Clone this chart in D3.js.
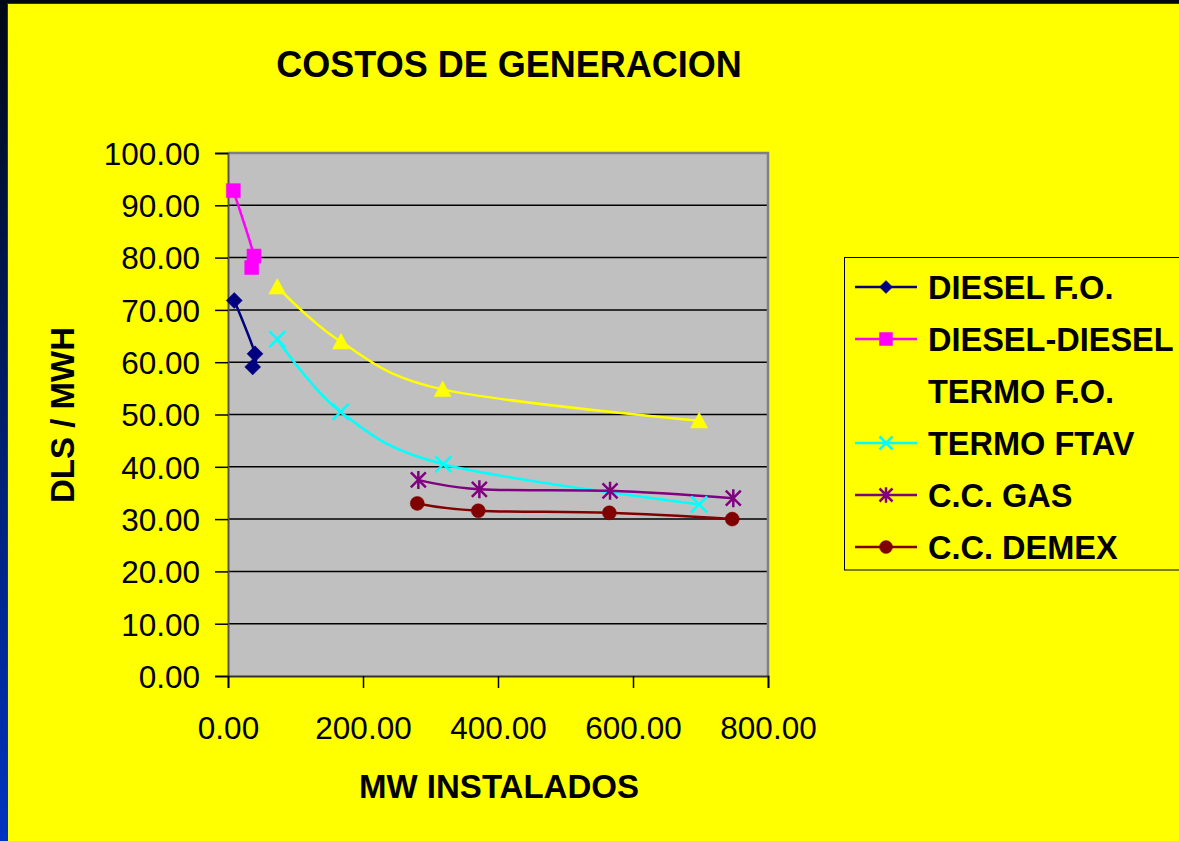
<!DOCTYPE html>
<html><head><meta charset="utf-8">
<script src="https://cdn.jsdelivr.net/npm/d3@7"></script>
<style>body{margin:0;overflow:hidden;background:#000;} text{font-family:"Liberation Sans",Arial,sans-serif;fill:#000;}</style>
</head><body><svg id="c" width="1179" height="841"></svg>
<script>
const chartTitle = "COSTOS DE GENERACION";
const xTitle = "MW INSTALADOS";
const yTitle = "DLS / MWH";
const xTicks = [0, 200, 400, 600, 800];
const yTicks = [0, 10, 20, 30, 40, 50, 60, 70, 80, 90, 100];
const seriesNames = ["DIESEL F.O.", "DIESEL-DIESEL", "TERMO F.O.", "TERMO FTAV", "C.C. GAS", "C.C. DEMEX"];
const dieselFO = [[9.3, 71.8], [40, 61.6], [36.6, 59.1]];
const dieselDiesel = [[7.9, 92.8], [38.5, 80.3], [35.1, 78.1]];
const termoFO = [[73, 74.4], [167.4, 63.9], [318, 54.8], [698, 48.8]];
const termoFTAV = [[73, 64.4], [167, 50.5], [319, 40.5], [698, 32.8]];
const ccGas = [[282, 37.5], [372.4, 35.7], [566, 35.4], [748.6, 34.0]];
const ccDemex = [[280.4, 33.0], [370.8, 31.6], [565, 31.2], [747, 30.0]];

const seriesData = [dieselFO, dieselDiesel, termoFO, termoFTAV, ccGas, ccDemex];
const colors = ["#000080", "#FF00FF", "#FFFF00", "#00FFFF", "#800080", "#800000"];
const markers = ["diamond", "square", "triangle", "x", "star", "circle"];

const svg = d3.select("#c");
const defs = svg.append("defs");
const grad = defs.append("linearGradient").attr("id", "bg").attr("x1", 0).attr("y1", 0).attr("x2", 0).attr("y2", 1);
grad.append("stop").attr("offset", "0%").attr("stop-color", "#000814");
grad.append("stop").attr("offset", "100%").attr("stop-color", "#0033C0");
svg.append("rect").attr("width", 1179).attr("height", 841).attr("fill", "url(#bg)");
svg.append("rect").attr("x", 7.5).attr("y", 3.5).attr("width", 1200).attr("height", 900)
  .attr("fill", "#FFFF00").attr("stroke", "#333").attr("stroke-width", 1);

const L = 228, R = 768, T = 153, B = 676;
const x = d3.scaleLinear().domain([0, 800]).range([L, R]);
const y = d3.scaleLinear().domain([0, 100]).range([B, T]);

// plot area
svg.append("rect").attr("x", L).attr("y", T).attr("width", R - L).attr("height", B - T).attr("fill", "#C0C0C0");
// gridlines
svg.append("g").selectAll("line").data(yTicks.filter(d => d > 0 && d < 100)).join("line")
  .attr("x1", L).attr("x2", R).attr("y1", d => y(d)).attr("y2", d => y(d))
  .attr("stroke", "#000").attr("stroke-width", 1.5);
// border top/right
svg.append("path").attr("d", `M${L},${T}H${R}V${B}`).attr("fill", "none").attr("stroke", "#808080").attr("stroke-width", 2.5);

// y axis
const yAxis = d3.axisLeft(y).tickValues(yTicks).tickFormat(d3.format(".2f")).tickSize(13).tickPadding(15);
const gy = svg.append("g").attr("transform", `translate(${L},0)`).call(yAxis);
gy.select(".domain").attr("stroke", "#555").attr("stroke-width", 2);
gy.selectAll(".tick line").attr("stroke", "#000").attr("stroke-width", 1.5);
gy.selectAll(".tick text").attr("font-size", "31.5px").attr("fill", "#000")
  .attr("font-family", "Liberation Sans, Arial, sans-serif").attr("dy", "0.36em");

// x axis
const xAxis = d3.axisBottom(x).tickValues(xTicks).tickFormat(d3.format(".2f")).tickSize(12).tickPadding(0);
const gx = svg.append("g").attr("transform", `translate(0,${B})`).call(xAxis);
gx.select(".domain").attr("stroke", "#333").attr("stroke-width", 2);
gx.selectAll(".tick line").attr("stroke", "#000").attr("stroke-width", 1.5);
gx.selectAll(".tick text").attr("font-size", "31.5px").attr("fill", "#000")
  .attr("font-family", "Liberation Sans, Arial, sans-serif").attr("dy", null).attr("y", 63);

// titles
svg.append("text").attr("x", 509).attr("y", 76.5).attr("text-anchor", "middle")
  .attr("font-size", "36px").attr("font-weight", "bold").text(chartTitle);
svg.append("text").attr("x", 499).attr("y", 797.5).attr("text-anchor", "middle")
  .attr("font-size", "33px").attr("font-weight", "bold").text(xTitle);
svg.append("text").attr("transform", "translate(73.5,415) rotate(-90)").attr("text-anchor", "middle")
  .attr("font-size", "33px").attr("font-weight", "bold").text(yTitle);

function markerPath(type, s) {
  const h = s / 2;
  switch (type) {
    case "diamond": return `M0,${-h}L${h},0L0,${h}L${-h},0Z`;
    case "square": return `M${-h},${-h}H${h}V${h}H${-h}Z`;
    case "triangle": return `M0,${-h}L${h},${h * 0.85}L${-h},${h * 0.85}Z`;
    case "x": return `M${-h},${-h}L${h},${h}M${h},${-h}L${-h},${h}`;
    case "star": return `M${-h},${-h}L${h},${h}M${h},${-h}L${-h},${h}M0,${-h * 1.2}V${h * 1.2}`;
    case "circle": return `M${h},0A${h},${h} 0 1,1 ${-h},0A${h},${h} 0 1,1 ${h},0Z`;
  }
}
function drawMarker(g, type, color, s) {
  const open = type === "x" || type === "star";
  g.append("path").attr("d", markerPath(type, s))
    .attr("fill", open ? "none" : color)
    .attr("stroke", color).attr("stroke-width", open ? 2.5 : 0.5);
}

const line = d3.line().x(d => x(d[0])).y(d => y(d[1])).curve(d3.curveCardinal.tension(0));
const markerSize = { diamond: 16, square: 14, triangle: 17, x: 16, star: 15, circle: 14 };

seriesData.forEach((data, i) => {
  svg.append("path").datum(data).attr("d", line).attr("fill", "none")
    .attr("stroke", colors[i]).attr("stroke-width", 2.5);
});
seriesData.forEach((data, i) => {
  data.forEach(p => {
    const g = svg.append("g").attr("transform", `translate(${x(p[0])},${y(p[1])})`);
    drawMarker(g, markers[i], colors[i], markerSize[markers[i]]);
  });
});

// legend
const lg = svg.append("g");
lg.append("rect").attr("x", 844.5).attr("y", 257.5).attr("width", 400).attr("height", 312.5)
  .attr("fill", "#FFFF00").attr("stroke", "#000").attr("stroke-width", 1);
seriesNames.forEach((name, i) => {
  const cy = 287 + i * 52;
  lg.append("line").attr("x1", 855).attr("x2", 917).attr("y1", cy).attr("y2", cy)
    .attr("stroke", colors[i]).attr("stroke-width", 2.5);
  const g = lg.append("g").attr("transform", `translate(886,${cy})`);
  drawMarker(g, markers[i], colors[i], 13);
  lg.append("text").attr("x", 928).attr("y", cy + 11.5).attr("font-size", "32.5px")
    .attr("font-weight", "bold").text(name);
});
</script></body></html>
